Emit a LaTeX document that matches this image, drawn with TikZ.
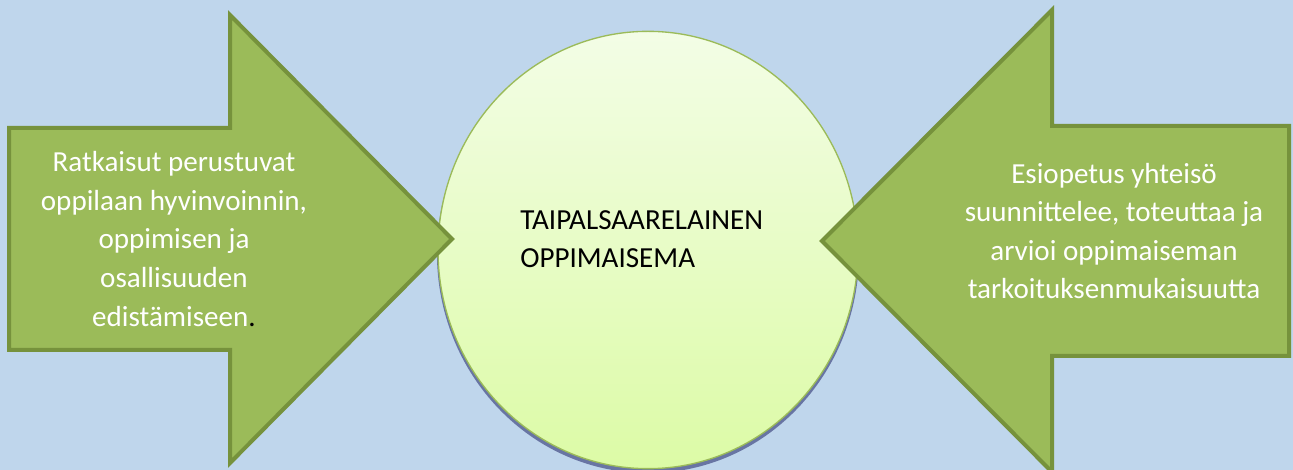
\documentclass[tikz,border=0pt]{standalone}
\usepackage{fontspec}
\setmainfont{Carlito}
\usetikzlibrary{shapes.geometric,shadows,positioning}

\definecolor{bgblue}{RGB}{191,214,236}
\definecolor{arrowgreen}{RGB}{155,187,89}
\definecolor{arrowedge}{RGB}{118,146,60}
\definecolor{disctop}{RGB}{243,253,230}
\definecolor{discbottom}{RGB}{220,251,166}

\begin{document}
\begin{tikzpicture}[x=0.75pt, y=-0.75pt,
        arrowshape/.style={fill=arrowgreen, draw=arrowedge, line width=3pt, line join=miter},
        disc/.style={ellipse, draw=arrowgreen, line width=1pt, top color=disctop, bottom color=discbottom,
        minimum width=315pt, minimum height=328pt, inner sep=0pt,
        drop shadow={shadow xshift=0pt, shadow yshift=-2.5pt, shadow scale=1.005, fill=black!70!blue, opacity=.45}},
        arrowtext/.style={text=white, align=center, inner sep=0pt, font=\fontsize{21.8}{28.9}\selectfont},
        disctext/.style={text=black, align=left, inner sep=0pt, font=\fontsize{21.8}{28.9}\selectfont}]
        % background
        \fill[bgblue] (0,0) rectangle (1293,470);
        \useasboundingbox (0,0) rectangle (1293,470);
        % centre
        \node [disc] (disc) at (648,250) {};
        \node [disctext, anchor=base west] (goal) at (520,268) {TAIPALSAARELAINEN\\OPPIMAISEMA};
        % left arrow
        \draw [arrowshape] (9,128) -- (230,128) -- (230,15) -- (452,239) -- (230,463) -- (230,350) -- (9,350) -- cycle;
        \node [arrowtext] (basis) at (174,239) {Ratkaisut perustuvat\\oppilaan hyvinvoinnin,\\oppimisen ja\\osallisuuden\\edistämiseen{\color{black}.}};
        % right arrow
        \draw [arrowshape] (1289,126) -- (1052,126) -- (1052,10) -- (822,241) -- (1052,472) -- (1052,356) -- (1289,356) -- cycle;
        \node [arrowtext] (community) at (1114,231) {Esiopetus yhteisö\\suunnittelee, toteuttaa ja\\arvioi oppimaiseman\\tarkoituksenmukaisuutta};
    \end{tikzpicture}
\end{document}
